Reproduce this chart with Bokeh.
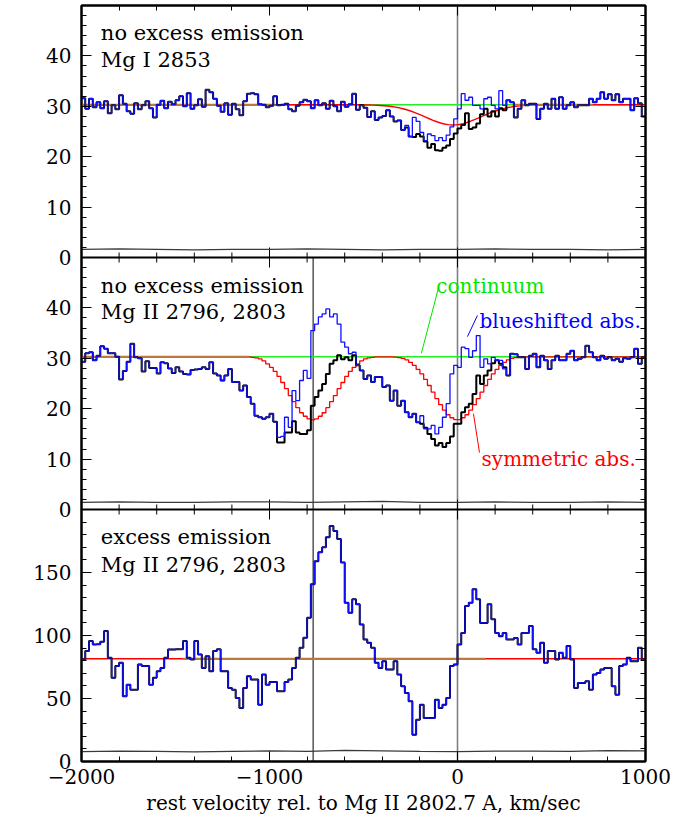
import numpy as np
from bokeh.plotting import figure
from bokeh.models import (Range1d, LinearAxis, FixedTicker, CustomJSTickFormatter,
                          Span, Label)
from bokeh.embed import file_html
from bokeh.resources import INLINE

# ---------------------------------------------------------------- data
V_START, V_STOP, V_BIN = -2000, 1000, 20          # velocity grid, km/s
V_MGII_2796 = -768                                  # Mg II 2796 relative to 2802.7 A
X_TICKS = [-2000, -1000, 0, 1000]
X_TICK_LABELS = ["\u22122000", "\u22121000", "0", "1000"]
X_MINOR_STEP = 200

# panel 1 : Mg I 2853, no excess emission
P1_BLUE = [
    31.6, 29.5, 31.5, 29.8, 30.8, 29.6, 31.0, 28.6, 30.2, 29.4,
    32.2, 30.5, 29.0, 28.5, 30.6, 29.4, 30.2, 31.0, 29.6, 27.8,
    30.3, 31.1, 29.6, 30.9, 30.4, 31.2, 32.0, 30.0, 32.6, 29.5,
    30.2, 31.4, 29.9, 33.3, 32.8, 31.5, 30.1, 28.9, 30.6, 28.3,
    30.5, 29.4, 28.2, 31.0, 32.5, 32.6, 32.4, 30.4, 30.3, 29.8,
    30.1, 32.0, 30.2, 30.3, 30.5, 29.4, 29.0, 30.1, 30.8, 31.3,
    31.0, 29.6, 31.2, 30.2, 30.6, 29.5, 31.1, 30.0, 29.0, 30.9,
    29.9, 30.4, 32.5, 29.3, 30.2, 29.7, 27.9, 29.0, 27.3, 27.8,
    28.1, 29.2, 28.0, 27.0, 27.2, 25.3, 26.2, 24.0, 27.8, 27.0,
    24.8, 23.2, 24.5, 24.2, 23.2, 23.8, 23.2, 24.3, 25.9, 27.5,
    29.5, 32.5, 31.2, 31.8, 30.2, 30.2, 29.5, 31.5, 31.8, 30.2,
    29.5, 33.1, 30.2, 31.2, 30.8, 27.8, 29.5, 31.2, 30.2, 30.5,
    30.5, 27.5, 29.5, 30.5, 29.5, 31.5, 29.5, 31.8, 29.5, 30.2,
    30.8, 29.8, 30.2, 30.2, 30.2, 31.5, 30.8, 31.5, 32.8, 31.5,
    32.4, 31.2, 32.4, 30.8, 31.5, 31.5, 29.2, 31.6, 30.6, 28.0]
P1_BLACK_START = 84
P1_BLACK_DIP = [27.2, 25.3, 25.8, 24.0, 23.9, 24.5, 24.0, 23.0, 21.8, 22.5,
                21.3, 21.2, 21.8, 22.2, 23.5, 24.6, 25.6, 26.3, 28.6, 25.5,
                25.8, 26.6, 28.4, 29.5, 28.0, 29.0, 28.0, 29.6, 29.2]
P1_CONT = 30.3
P1_SYM_START = 75
P1_SYM_DIP = [30.27, 30.26, 30.24, 30.21, 30.17, 30.12, 30.05, 29.96, 29.84, 29.70,
              29.52, 29.31, 29.07, 28.80, 28.50, 28.18, 27.86, 27.53, 27.22, 26.93,
              26.68, 26.49, 26.36, 26.30, 26.32, 26.40, 26.56, 26.78, 27.04, 27.34,
              27.66, 27.99, 28.32, 28.63, 28.91, 29.17, 29.40, 29.60, 29.76, 29.89,
              30.00, 30.08, 30.14, 30.19, 30.22, 30.25]
P1_BROWN = [(-2000, -970), (300, 720)]

# panel 2 : Mg II 2796, 2803, no excess emission
P2_BLUE = [
    29.3, 31.0, 31.2, 29.6, 30.5, 32.4, 31.9, 31.0, 31.0, 30.3,
    25.8, 27.5, 29.3, 32.9, 30.2, 30.0, 27.4, 29.4, 28.1, 28.1,
    27.0, 29.2, 29.0, 28.0, 27.1, 28.2, 27.4, 26.9, 26.8, 27.7,
    27.8, 27.9, 28.2, 27.9, 29.2, 27.0, 26.6, 25.6, 26.6, 27.9,
    25.3, 25.3, 23.6, 24.6, 22.3, 21.0, 18.6, 18.3, 18.0, 18.3,
    19.0, 17.4, 14.3, 14.5, 18.3, 16.3, 23.6, 21.6, 25.6, 27.6,
    26.0, 35.5, 36.8, 38.2, 38.8, 39.8, 38.2, 38.8, 36.8, 33.2,
    32.2, 30.9, 31.2, 28.6, 27.6, 25.9, 26.6, 25.3, 26.3, 26.3,
    24.3, 24.6, 21.6, 23.6, 20.6, 21.6, 19.3, 18.3, 19.0, 17.3,
    18.6, 16.0, 16.0, 16.7, 15.0, 16.3, 18.3, 21.0, 26.9, 28.6,
    28.2, 32.2, 31.9, 30.2, 31.5, 34.5, 28.2, 29.9, 28.9, 30.2,
    29.6, 29.6, 27.9, 26.6, 30.9, 30.8, 30.2, 30.2, 27.9, 30.5,
    30.9, 28.2, 30.5, 29.6, 27.9, 29.6, 30.5, 29.6, 29.6, 30.9,
    31.5, 29.6, 29.9, 30.2, 32.5, 31.2, 30.2, 29.6, 30.5, 29.9,
    30.2, 29.6, 29.9, 29.3, 30.0, 29.9, 30.2, 31.9, 28.9, 30.2]
P2_BLACK_A_START = 52
P2_BLACK_A = [13.3, 13.3, 15.3, 15.3, 17.5, 15.3, 15.0, 15.0, 15.7, 20.6,
              22.3, 23.6, 24.9, 26.9, 28.9, 29.6, 30.6, 29.8, 30.2, 29.6, 30.6]
P2_BLACK_B_START = 90
P2_BLACK_B = [17.0, 16.2, 15.0, 14.0, 12.7, 13.2, 12.4, 13.2, 14.5, 17.0,
              17.0, 19.3, 20.3, 21.0, 22.9, 26.6, 24.9, 26.6, 27.6, 29.0,
              29.6, 28.9, 28.2]
P2_CONT = 30.3
P2_SYM_A_START = 45
P2_SYM_A = [30.2, 30.1, 29.9, 29.5, 28.9, 28.2, 27.4, 26.4, 25.2, 24.0,
            22.6, 21.4, 20.2, 19.2, 18.5, 18.0, 17.8, 18.0, 18.5, 19.2,
            20.2, 21.4, 22.6, 24.0, 25.2, 26.4, 27.4, 28.2, 28.9, 29.5,
            29.9, 30.1, 30.2]
P2_SYM_B_START = 83
P2_SYM_B = [30.25, 30.15, 30.0, 29.7, 29.2, 28.6, 27.8, 26.9, 25.8, 24.6,
            23.3, 22.0, 20.8, 19.7, 18.8, 18.2, 17.85, 17.85, 18.2, 18.8,
            19.7, 20.8, 22.0, 23.3, 24.6, 25.8, 26.9, 27.8, 28.6, 29.2,
            29.7, 30.0, 30.15, 30.25]
P2_BROWN = [(-2000, -1110)]

# panel 3 : Mg II 2796, 2803, excess emission
P3_BLUE = [
    81.0, 87.6, 95.6, 92.9, 93.0, 95.0, 103.5, 82.3, 66.4, 75.7,
    78.3, 51.8, 61.0, 57.0, 57.0, 77.0, 75.7, 75.7, 61.0, 66.4,
    71.7, 74.3, 82.3, 88.9, 88.9, 89.0, 89.0, 95.6, 82.3, 81.0,
    95.6, 85.0, 74.3, 83.6, 71.7, 87.6, 89.0, 71.7, 71.7, 58.4,
    57.0, 50.4, 42.5, 58.4, 67.7, 65.0, 65.0, 45.1, 69.0, 61.0,
    63.0, 63.0, 55.7, 55.7, 63.0, 65.0, 74.3, 82.3, 90.3, 98.2,
    114.0, 140.7, 159.0, 166.0, 170.0, 178.0, 187.0, 183.0, 176.5, 158.0,
    126.0, 118.0, 128.7, 124.8, 108.8, 96.9, 94.2, 90.3, 78.3, 74.3,
    79.6, 73.0, 73.0, 79.6, 69.0, 59.7, 54.4, 47.8, 21.2, 33.2,
    45.0, 34.5, 34.5, 34.5, 49.0, 42.5, 45.0, 50.4, 75.7, 77.0,
    92.9, 102.0, 123.4, 126.0, 136.7, 128.7, 110.0, 110.0, 124.8, 112.8,
    102.0, 99.5, 102.0, 96.9, 96.9, 98.0, 92.9, 102.0, 102.0, 107.5,
    89.0, 86.3, 94.2, 78.3, 87.6, 87.6, 81.0, 86.3, 82.3, 91.6,
    81.0, 58.4, 62.4, 62.4, 63.7, 57.0, 69.0, 70.3, 73.0, 74.3,
    74.3, 59.7, 53.0, 75.7, 77.0, 82.3, 79.6, 79.6, 90.3, 81.0]
P3_CONT = 81.5
P3_BROWN = [(-1460, 150)]

# error (noise) spectra, sampled every 200 km/s
ERR_V = [-2000, -1800, -1600, -1400, -1200, -1000, -800, -600, -400, -200,
         0, 200, 400, 600, 800, 1000]
P1_ERR = [1.6, 1.7, 1.6, 1.5, 1.6, 1.6, 1.7, 1.6, 1.5, 1.6, 1.6, 1.7, 1.6, 1.6, 1.5, 1.6]
P2_ERR = [1.4, 1.5, 1.4, 1.4, 1.5, 1.5, 1.4, 1.5, 1.6, 1.4, 1.4, 1.5, 1.4, 1.4, 1.5, 1.4]
P3_ERR = [7.8, 8.2, 8.0, 7.6, 8.1, 8.4, 8.0, 8.9, 8.5, 8.0, 7.8, 8.2, 8.3, 8.0, 8.7, 8.4]

# y-axis ticks of each panel
P1_YTICKS = [0, 10, 20, 30, 40]
P2_YTICKS = [0, 10, 20, 30, 40]
P3_YTICKS = [0, 50, 100, 150]
P1_YMINOR, P2_YMINOR, P3_YMINOR = 2, 2, 10

# text
FONT = "DejaVu Serif"
Y_LABEL = "DN/sec/pixel"
X_LABEL = "rest velocity rel. to Mg II 2802.7 A, km/sec"
P1_TEXT = [("no excess emission", -1897, 44.6), ("Mg I 2853", -1897, 39.1)]
P2_TEXT = [("no excess emission", -1897, 44.4), ("Mg II 2796, 2803", -1897, 39.1)]
P3_TEXT = [("excess emission", -1897, 177.8), ("Mg II 2796, 2803", -1897, 155.6)]
P2_NOTES = [  # text, x, y, color, pointer (x0, y0, x1, y1)
    ("continuum", -113, 44.4, "#00e600", (-192, 31.0, -101, 44.0)),
    ("blueshifted abs.", 117, 37.5, "#0000ff", (53, 34.3, 106, 38.5)),
    ("symmetric abs.", 128, 10.1, "#ff0000", (85, 19.0, 117, 11.3)),
]

# ---------------------------------------------------------------- helpers
edges = np.arange(V_START, V_STOP + V_BIN, V_BIN)
centers = edges[:-1] + V_BIN / 2.0
NB = len(centers)


def splice(base, start, piece):
    out = list(base)
    out[start:start + len(piece)] = piece
    return out


def step_y(vals):
    return list(vals) + [vals[-1]]


P1_BLACK = splice(P1_BLUE, P1_BLACK_START, P1_BLACK_DIP)
P1_SYM = splice([P1_CONT] * NB, P1_SYM_START, P1_SYM_DIP)
P2_BLACK = splice(splice(P2_BLUE, P2_BLACK_A_START, P2_BLACK_A), P2_BLACK_B_START, P2_BLACK_B)
P2_SYM = splice(splice([P2_CONT] * NB, P2_SYM_A_START, P2_SYM_A), P2_SYM_B_START, P2_SYM_B)
P3_BLACK = list(P3_BLUE)

# ---------------------------------------------------------------- figure
RANGES = {"p1": Range1d(-100, 50), "p2": Range1d(-50, 100), "p3": Range1d(0, 600)}
MAIN_TOP = 150

p = figure(width=685, height=819, output_backend="svg", toolbar_location=None,
           x_range=Range1d(V_START, V_STOP), y_range=Range1d(0, MAIN_TOP),
           min_border_left=81, min_border_right=40, min_border_top=5,
           min_border_bottom=58)
p.extra_y_ranges = RANGES
p.grid.visible = False
p.outline_line_color = "black"
p.outline_line_width = 2
p.background_fill_color = "white"
p.border_fill_color = "white"


def to_main(name, v):
    r = RANGES[name]
    return (v - r.start) / (r.end - r.start) * MAIN_TOP


y_major, y_minor, y_over = [], [], {}
for name, ticks, mstep, top in (("p3", P3_YTICKS, P3_YMINOR, 200),
                                ("p2", P2_YTICKS, P2_YMINOR, 50),
                                ("p1", P1_YTICKS, P1_YMINOR, 50)):
    for t in ticks:
        pos = float(to_main(name, t))
        y_major.append(pos)
        y_over[pos] = str(t)
    for t in range(0, top + 1, mstep):
        y_minor.append(float(to_main(name, t)))

x_minor = list(range(V_START, V_STOP + 1, X_MINOR_STEP))
x_ticker = FixedTicker(ticks=X_TICKS, minor_ticks=x_minor)
y_ticker = FixedTicker(ticks=y_major, minor_ticks=y_minor)


def style_axis(ax):
    ax.axis_line_width = 2
    ax.axis_line_color = "black"
    ax.major_tick_in = 10
    ax.major_tick_out = 0
    ax.minor_tick_in = 5
    ax.minor_tick_out = 0
    ax.major_tick_line_color = "black"
    ax.minor_tick_line_color = "black"
    ax.major_label_text_font = FONT
    ax.major_label_text_font_size = "20px"
    ax.major_label_text_color = "black"


xax = p.xaxis[0]
xax.ticker = x_ticker
style_axis(xax)
xax.major_label_overrides = {t: lab for t, lab in zip(X_TICKS, X_TICK_LABELS)}
xax.major_label_standoff = 7
xax.axis_label = X_LABEL
xax.axis_label_text_font = FONT
xax.axis_label_text_font_size = "20px"
xax.axis_label_text_font_style = "normal"
xax.axis_label_text_color = "black"
xax.axis_label_standoff = 4

yax = p.yaxis[0]
yax.ticker = y_ticker
style_axis(yax)
yax.major_label_overrides = y_over
yax.major_label_standoff = 10

empty = CustomJSTickFormatter(code="return ''")
top_ax = LinearAxis(ticker=x_ticker, formatter=empty)
style_axis(top_ax)
top_ax.major_label_text_font_size = "0px"
top_ax.major_label_standoff = 0
p.add_layout(top_ax, "above")

right_ax = LinearAxis(ticker=y_ticker, formatter=empty)
style_axis(right_ax)
right_ax.major_label_text_font_size = "0px"
right_ax.major_label_standoff = 0
p.add_layout(right_ax, "right")

# rest-velocity markers
p.add_layout(Span(location=0, dimension="height", line_color="#808080",
                  line_width=1.6, level="underlay"))
for name, top in (("p2", 50), ("p3", 200)):
    p.segment(x0=[V_MGII_2796], y0=[0], x1=[V_MGII_2796], y1=[top],
              y_range_name=name, line_color="black", line_width=1)

# panel separators with their tick marks
for name in ("p2", "p1"):
    yb = to_main(name, 0)
    p.add_layout(Span(location=yb, dimension="width", line_color="black",
                      line_width=2))
    p.scatter(x=X_TICKS, y=[yb] * len(X_TICKS), marker="dash", angle=np.pi / 2,
              size=20, line_color="black", line_width=1)
    p.scatter(x=x_minor, y=[yb] * len(x_minor), marker="dash", angle=np.pi / 2,
              size=10, line_color="black", line_width=1)

# ---------------------------------------------------------------- spectra
panels = [
    ("p1", P1_ERR, P1_CONT, P1_SYM, P1_BROWN, P1_BLACK, P1_BLUE, "line"),
    ("p2", P2_ERR, P2_CONT, P2_SYM, P2_BROWN, P2_BLACK, P2_BLUE, "step"),
    ("p3", P3_ERR, None, [P3_CONT] * NB, P3_BROWN, P3_BLACK, P3_BLUE, "flat"),
]
for name, err, cont, sym, brown, black, blue, symstyle in panels:
    p.line(ERR_V, err, y_range_name=name, line_color="#3a3a3a", line_width=1.2)
    if cont is not None:
        p.line([V_START, V_STOP], [cont, cont], y_range_name=name,
               line_color="#22ee22", line_width=1.6)
    if symstyle == "step":
        p.step(edges, step_y(sym), mode="after", y_range_name=name,
               line_color="#ff0000", line_width=1.3)
    else:
        xs = [V_START] + list(centers) + [V_STOP]
        ys = [sym[0]] + list(sym) + [sym[-1]]
        p.line(xs, ys, y_range_name=name, line_color="#ff0000", line_width=1.4)
    lvl = sym[0]
    for a, b in brown:
        p.line([a, b], [lvl, lvl], y_range_name=name, line_color="#bb7a3c",
               line_width=2.2)
    p.step(edges, step_y(black), mode="after", y_range_name=name,
           line_color="black", line_width=2.0)
    p.step(edges, step_y(blue), mode="after", y_range_name=name,
           line_color="#1010ff", line_width=1.3)

# ---------------------------------------------------------------- texts
for name in ("p1", "p2", "p3"):
    mid = 25 if name != "p3" else 100
    p.add_layout(Label(x=-2271, y=mid, y_range_name=name, text=Y_LABEL,
                       angle=np.pi / 2, text_align="center", text_baseline="middle",
                       text_font=FONT, text_font_size="22px", text_color="black"))

for name, texts in (("p1", P1_TEXT), ("p2", P2_TEXT), ("p3", P3_TEXT)):
    for txt, x, y in texts:
        p.add_layout(Label(x=x, y=y, y_range_name=name, text=txt,
                           text_align="left", text_baseline="alphabetic",
                           text_font=FONT, text_font_size="21px", text_color="black"))

for txt, x, y, col, (x0, y0, x1, y1) in P2_NOTES:
    p.add_layout(Label(x=x, y=y, y_range_name="p2", text=txt, text_align="left",
                       text_baseline="alphabetic", text_font=FONT,
                       text_font_size="20px", text_color=col))
    p.segment(x0=[x0], y0=[y0], x1=[x1], y1=[y1], y_range_name="p2",
              line_color=col, line_width=1)

open("out.html", "w").write(file_html(p, INLINE))
